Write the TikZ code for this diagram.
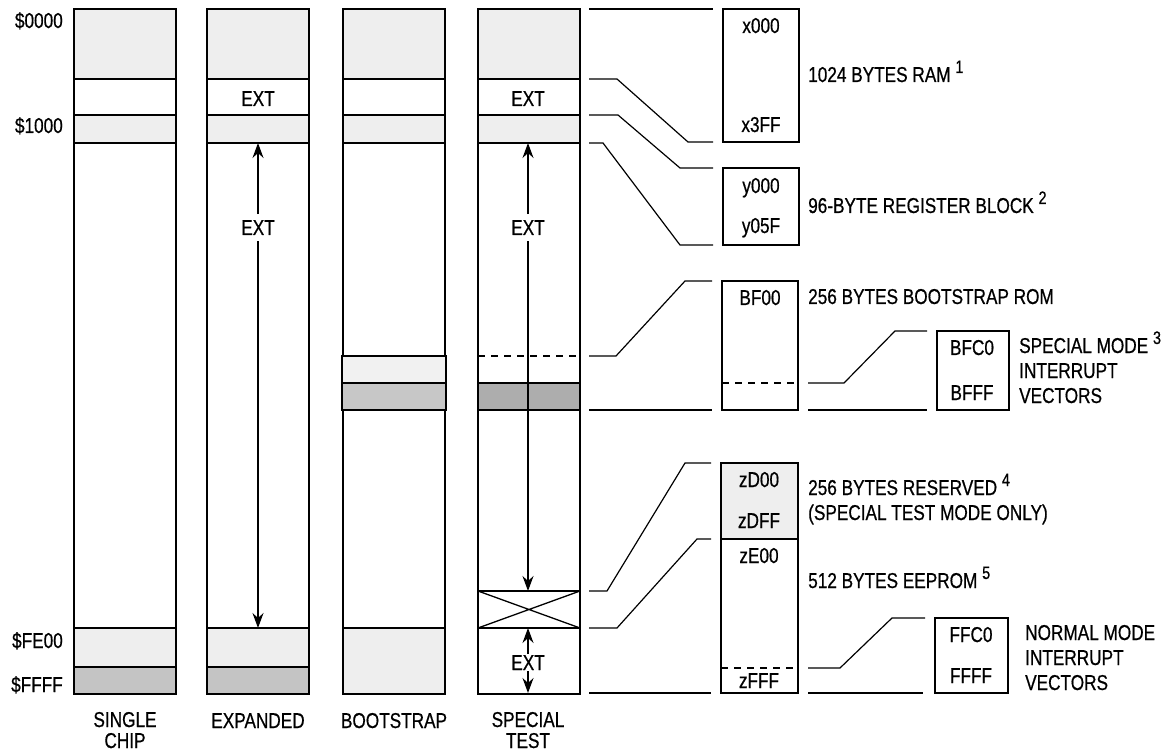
\documentclass[tikz,border=0pt]{standalone}
\usepackage{fontspec}
\setmainfont{Liberation Sans}[FakeStretch=0.8, FakeBold=0.6]
\usetikzlibrary{arrows.meta}
\newcommand{\notemark}[1]{\raisebox{9pt}{\fontsize{18}{18}\selectfont #1}}

\begin{document}
\begin{tikzpicture}[x=1pt, y=-1pt,
    lite/.style={fill=gray!13},
    dark/.style={fill=gray!46},
    divline/.style={line width=1.3pt},
    dashline/.style={line width=1.2pt, dash pattern=on 7pt off 6pt},
    mapframe/.style={draw, line width=1.5pt},
    leader/.style={line width=1.2pt},
    detail/.style={draw, line width=1.3pt, anchor=north west, inner sep=0pt, outer sep=0pt},
    txt/.style={font=\fontsize{21.5}{25}\selectfont, inner sep=0pt},
    caption/.style={font=\fontsize{21.5}{21}\selectfont, inner sep=0pt, anchor=base, align=center},
    extarr/.style={line width=1.3pt, -{Stealth[length=15pt, width=11pt, inset=5pt]}}
  ]
  \useasboundingbox (0,0) rectangle (1173,751);

  % memory map columns
  \foreach \x in {74,207,343,478} {
    \fill[lite] (\x,9) rectangle ++(102,70);
    \fill[lite] (\x,115) rectangle ++(102,28);
  }
  \foreach \x in {74,207} {
    \fill[lite] (\x,628) rectangle ++(102,39);
    \fill[dark] (\x,667) rectangle ++(102,27);
    \draw[divline] (\x,628) -- ++(102,0) (\x,667) -- ++(102,0);
  }
  \fill[lite] (343,628) rectangle ++(102,66);
  \draw[divline] (343,628) -- ++(102,0);
  \fill[gray!64] (478,383) rectangle ++(102,27);
  \foreach \x in {74,207,343,478} {
    \draw[divline] (\x,79) -- ++(102,0) (\x,115) -- ++(102,0) (\x,143) -- ++(102,0);
    \draw[mapframe] (\x,9) rectangle ++(102,685);
  }

  % bootstrap rom
  \draw[line width=2pt, fill=gray!11] (342,356) rectangle (446,383);
  \draw[line width=2pt, fill=gray!44] (342,383) rectangle (446,410);

  % special test
  \draw[dashline] (478,356) -- ++(102,0);
  \draw[divline] (478,383) -- ++(102,0) (478,410) -- ++(102,0);
  \draw[divline] (478,591) rectangle (580,628);
  \draw[divline] (478,591) -- (580,628) (478,628) -- (580,591);

  % addresses
  \node[txt, anchor=base east] (a0000) at (63,28) {\$0000};
  \node[txt, anchor=base east] (a1000) at (63,133) {\$1000};
  \node[txt, anchor=base east] (aFE00) at (63,648) {\$FE00};
  \node[txt, anchor=base east] (aFFFF) at (63,692) {\$FFFF};

  % mode names
  \node[caption] (capsc) at (125,748) {SINGLE\\CHIP};
  \node[caption] (capex) at (258,728) {EXPANDED};
  \node[caption] (capbs) at (394,728) {BOOTSTRAP};
  \node[caption] (capst) at (528,748) {SPECIAL\\TEST};

  % external spaces
  \coordinate (exTop) at (258,143);
  \coordinate (exBot) at (258,628);
  \coordinate (stTop) at (528,143);
  \coordinate (stX) at (528,591);
  \coordinate (stY) at (528,628);
  \coordinate (stBot) at (528,693);
  \node[txt, anchor=base] (exA) at (258,106) {EXT};
  \node[txt, anchor=base, inner ysep=6pt] (exB) at (258,235) {EXT};
  \node[txt, anchor=base] (stA) at (528,106) {EXT};
  \node[txt, anchor=base, inner ysep=6pt] (stB) at (528,235) {EXT};
  \node[txt, anchor=base, inner ysep=1pt] (stC) at (528,670) {EXT};
  \draw[extarr] (exB) -- (exTop);
  \draw[extarr] (exB) -- (exBot);
  \draw[extarr] (stB) -- (stTop);
  \draw[extarr] (stB) -- (stX);
  \draw[extarr] (stC) -- (stY);
  \draw[extarr] (stC) -- (stBot);

  % detail boxes
  \node[detail, minimum width=76pt, minimum height=133pt] (ram) at (723,9) {};
  \node[detail, minimum width=76pt, minimum height=77pt] (reg) at (723,168) {};
  \node[detail, minimum width=76pt, minimum height=129pt] (boot) at (722,281) {};
  \node[detail, minimum width=72pt, minimum height=79pt] (smv) at (937,331) {};
  \fill[lite] (721,463) rectangle ++(77,76);
  \node[detail, minimum width=77pt, minimum height=230pt] (ee) at (721,463) {};
  \node[detail, minimum width=73pt, minimum height=75pt] (nmv) at (935,618) {};
  \coordinate (bootdash) at ([yshift=-102pt]boot.north west);
  \coordinate (bootdashE) at ([yshift=-102pt]boot.north east);
  \coordinate (eemid) at ([yshift=-76pt]ee.north west);
  \coordinate (eemidE) at ([yshift=-76pt]ee.north east);
  \coordinate (eedash) at ([yshift=25pt]ee.south west);
  \coordinate (eedashE) at ([yshift=25pt]ee.south east);
  \draw[dashline] (bootdash) -- (bootdashE);
  \draw[divline] (eemid) -- (eemidE);
  \draw[dashline] (eedash) -- (eedashE);

  % leaders
  \foreach \n/\y in {a/9, b/79, c/115, d/143, e/356, f/410, g/591, h/628, i/693}
    \coordinate (lead-\n) at (589,\y);
  \draw[leader] (lead-a) -- ([xshift=-10pt]ram.north west);
  \draw[leader] (lead-b) -- ++(28,0) -- ([xshift=-35pt]ram.south west) -- ([xshift=-10pt]ram.south west);
  \draw[leader] (lead-c) -- ++(29,0) -- ([xshift=-43pt]reg.north west) -- ([xshift=-10pt]reg.north west);
  \draw[leader] (lead-d) -- ++(14,0) -- ([xshift=-43pt]reg.south west) -- ([xshift=-10pt]reg.south west);
  \draw[leader] (lead-e) -- ++(27,0) -- ([xshift=-37pt]boot.north west) -- ([xshift=-10pt]boot.north west);
  \draw[leader] (lead-f) -- ([xshift=-10pt]boot.south west);
  \draw[leader] (lead-g) -- ++(18,0) -- ([xshift=-36pt]ee.north west) -- ([xshift=-10pt]ee.north west);
  \draw[leader] (lead-h) -- ++(28,0) -- ([xshift=-24pt]eemid) -- ([xshift=-10pt]eemid);
  \draw[leader] (lead-i) -- ([xshift=-10pt]ee.south west);
  \draw[leader] ([xshift=10pt]bootdashE) -- ++(36,0) -- ([xshift=-42pt]smv.north west) -- ([xshift=-10pt]smv.north west);
  \draw[leader] ([xshift=10pt]boot.south east) -- ([xshift=-10pt]smv.south west);
  \draw[leader] ([xshift=10pt]eedashE) -- ++(32,0) -- ([xshift=-43pt]nmv.north west) -- ([xshift=-10pt]nmv.north west);
  \draw[leader] ([xshift=10pt]ee.south east) -- ([xshift=-12pt]nmv.south west);

  % box contents
  \node[txt, anchor=base] (x000) at (761,33) {x000};
  \node[txt, anchor=base] (x3FF) at (761,132) {x3FF};
  \node[txt, anchor=base] (y000) at (761,193) {y000};
  \node[txt, anchor=base] (y05F) at (761,233) {y05F};
  \node[txt, anchor=base] (BF00) at (760,305) {BF00};
  \node[txt, anchor=base] (BFC0) at (972,355) {BFC0};
  \node[txt, anchor=base] (BFFF) at (972,400) {BFFF};
  \node[txt, anchor=base] (zD00) at (759,487) {zD00};
  \node[txt, anchor=base] (zDFF) at (759,528) {zDFF};
  \node[txt, anchor=base] (zE00) at (759,563) {zE00};
  \node[txt, anchor=base] (zFFF) at (759,688) {zFFF};
  \node[txt, anchor=base] (FFC0) at (971,642) {FFC0};
  \node[txt, anchor=base] (FFFF) at (971,683) {FFFF};

  % descriptions
  \node[txt, anchor=base west] (ramtxt) at (808,82) {1024 BYTES RAM \notemark{1}};
  \node[txt, anchor=base west] (regtxt) at (808,213) {96-BYTE REGISTER BLOCK \notemark{2}};
  \node[txt, anchor=base west] (boottxt) at (808,304) {256 BYTES BOOTSTRAP ROM};
  \node[txt, anchor=base west, align=left] (smvtxt) at (1019,403) {SPECIAL MODE \notemark{3}\\INTERRUPT\\VECTORS};
  \node[txt, anchor=base west, align=left] (restxt) at (808,520) {256 BYTES RESERVED \notemark{4}\\(SPECIAL TEST MODE ONLY)};
  \node[txt, anchor=base west] (eetxt) at (808,588) {512 BYTES EEPROM \notemark{5}};
  \node[txt, anchor=base west, align=left] (nmvtxt) at (1025,690) {NORMAL MODE\\INTERRUPT\\VECTORS};
\end{tikzpicture}
\end{document}
